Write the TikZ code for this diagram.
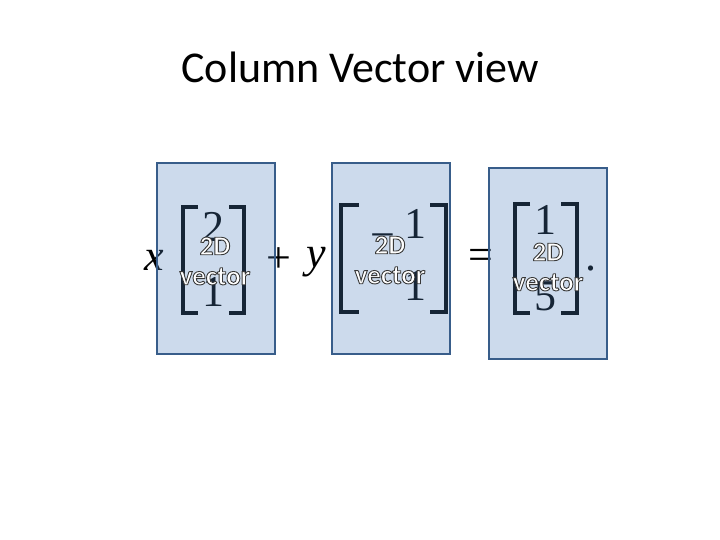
\documentclass[tikz,border=0pt]{standalone}
\usepackage{fontspec}
\setmainfont{Carlito}
\newfontfamily\tms{Liberation Serif}
\definecolor{boxfill}{HTML}{4F81BD}
\definecolor{boxline}{HTML}{385D8A}
\tikzset{
  vbox/.style={draw=boxline, line width=2pt, fill=boxfill, fill opacity=0.29, draw opacity=1, minimum width=118pt, minimum height=191pt, inner sep=0},
  mth/.style={inner sep=0, font=\tms\fontsize{44}{44}\selectfont},
  brk/.style={line width=3.5pt, line cap=butt, line join=miter},
  lbl/.style={inner sep=0, align=center, text=white, font=\bfseries\fontsize{27}{30}\selectfont},
}
\newcommand\outltext[1]{\special{pdf:literal direct 2 Tr 0.9 w 0.22 0.22 0.22 RG}#1\special{pdf:literal direct 0 Tr}}
\begin{document}
\begin{tikzpicture}[x=1pt,y=-1pt]
\useasboundingbox (0,0) rectangle (720,540);
\node[inner sep=0, anchor=base, font=\fontsize{44}{44}\selectfont] (title) at (360,83) {Column Vector view};
% equation
\node[mth] (xv) at (154,260) {\itshape x};
\draw[brk] (198,207) -| (183,313) -- (198,313);
\draw[brk] (229,207) -| (244,313) -- (229,313);
\node[mth] (a1) at (213,227) {2};
\node[mth] (a2) at (213,292) {1};
\node[mth] (plus) at (279,260) {+};
\node[mth] (yv) at (316,262) {\itshape y};
\draw[brk] (359,205) -| (341,312) -- (359,312);
\draw[brk] (430,205) -| (446,312) -- (430,312);
\node[mth, anchor=base] (mn) at (383,249) {−};
\node[mth] (b1) at (415,224) {1};
\node[mth] (b2) at (415,286) {1};
\node[mth] (eq) at (481,259) {=};
\draw[brk] (530,204) -| (515,313) -- (530,313);
\draw[brk] (561,204) -| (577,313) -- (561,313);
\node[mth] (c1) at (545,220) {1};
\node[mth] (c2) at (545,296) {5};
\node[mth, anchor=base] (dot) at (591,270) {.};
% boxes
\node[vbox] (box1) at (216,258.5) {};
\node[vbox] (box2) at (390.5,258.5) {};
\node[vbox] (box3) at (548,263.5) {};
\node[lbl] (l1) at (215,261) {\outltext{2D}\\\outltext{vector}};
\node[lbl] (l2) at (390,260) {\outltext{2D}\\\outltext{vector}};
\node[lbl] (l3) at (548,267) {\outltext{2D}\\\outltext{vector}};
\end{tikzpicture}
\end{document}
